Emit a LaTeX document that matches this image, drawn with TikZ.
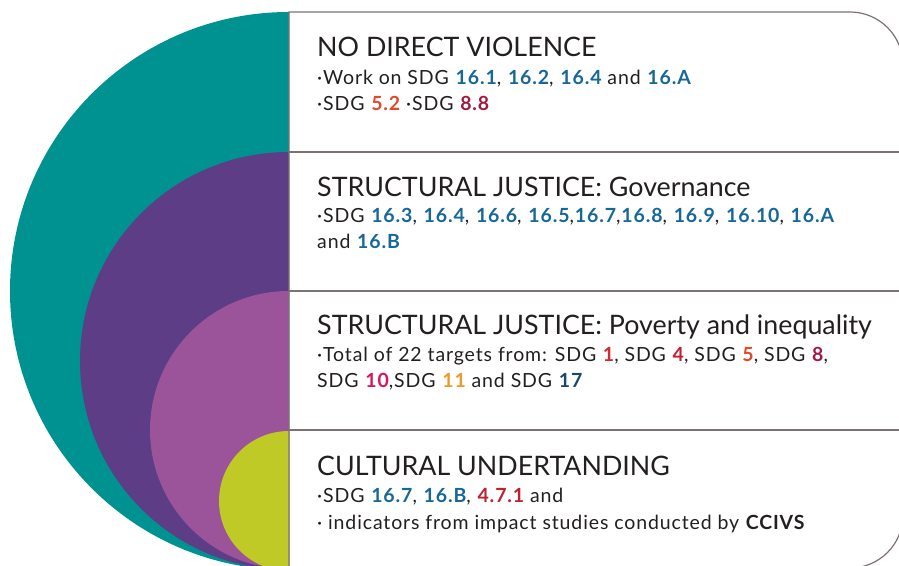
\documentclass[tikz,border=0pt]{standalone}
\usepackage{fontspec}
\setmainfont{Lato}
\newfontfamily\bodyfont[LetterSpace=4.5]{Lato}
\usetikzlibrary{calc}
\definecolor{ringteal}{HTML}{009191}
\definecolor{ringpurple}{HTML}{5C3D86}
\definecolor{ringmagenta}{HTML}{9B5399}
\definecolor{ringlime}{HTML}{BFCA26}
\definecolor{rulegray}{HTML}{7D7272}
\definecolor{inktext}{HTML}{231F20}
\definecolor{sdgone}{HTML}{D7283A}
\definecolor{sdgfour}{HTML}{BE2130}
\definecolor{sdgfive}{HTML}{E2492B}
\definecolor{sdgeight}{HTML}{A21942}
\definecolor{sdgten}{HTML}{D5175F}
\definecolor{sdgeleven}{HTML}{EE9A29}
\definecolor{sdgsixteen}{HTML}{17689A}
\definecolor{sdgseventeen}{HTML}{19486A}
\newcommand{\goal}[2]{\textbf{\textcolor{#1}{#2}}}
\tikzset{
  divider/.style={rulegray,line width=1.2pt},
  heading/.style={anchor=base west,inner sep=0pt,font=\fontsize{26.8}{32}\selectfont,text=inktext},
  % base of a two-line body node is its last line
  body/.style={anchor=base west,inner sep=0pt,align=left,font=\bodyfont\fontsize{19.5}{26.5}\selectfont,text=inktext}
}
\begin{document}
\begin{tikzpicture}[x=1pt,y=1pt]
  \useasboundingbox (0,0) rectangle (899,565);
  % nested half discs
  \fill[ringteal] (289,553) arc[start angle=90,end angle=270,radius=279] -- cycle;
  \fill[ringpurple] (289,413) arc[start angle=90,end angle=270,radius=209] -- cycle;
  \fill[ringmagenta] (289,274) arc[start angle=90,end angle=270,radius=139] -- cycle;
  \fill[ringlime] (289,134) arc[start angle=90,end angle=270,radius=70] -- cycle;
  % text panel
  \draw[divider] (289,-3) -- (289,553) -- (850,553) arc[start angle=90,end angle=0,radius=53]
    -- (903,50) arc[start angle=0,end angle=-90,radius=53] -- cycle;
  \draw[divider] (289,413) -- (903,413);
  \draw[divider] (289,274) -- (903,274);
  \draw[divider] (289,135) -- (903,135);
  % sections
  \node[heading] (violence) at (317,508) {NO DIRECT VIOLENCE};
  \node[body] (violencetext) at (317,454) {·Work on SDG \goal{sdgsixteen}{16.1}, \goal{sdgsixteen}{16.2}, \goal{sdgsixteen}{16.4} and \goal{sdgsixteen}{16.A}\\
    ·SDG \goal{sdgfive}{5.2} ·SDG \goal{sdgeight}{8.8}};
  \node[heading] (governance) at (317,368) {STRUCTURAL JUSTICE: Governance};
  \node[body] (governancetext) at (317,316) {·SDG \goal{sdgsixteen}{16.3}, \goal{sdgsixteen}{16.4}, \goal{sdgsixteen}{16.6}, \goal{sdgsixteen}{16.5},\goal{sdgsixteen}{16.7},\goal{sdgsixteen}{16.8}, \goal{sdgsixteen}{16.9}, \goal{sdgsixteen}{16.10}, \goal{sdgsixteen}{16.A}\\
    and \goal{sdgsixteen}{16.B}};
  \node[heading] (poverty) at (317,230) {STRUCTURAL JUSTICE: Poverty and inequality};
  \node[body] (povertytext) at (317,177) {·Total of 22 targets from: SDG \goal{sdgone}{1}, SDG \goal{sdgfour}{4}, SDG \goal{sdgfive}{5}, SDG \goal{sdgeight}{8},\\
    SDG \goal{sdgten}{10},SDG \goal{sdgeleven}{11} and SDG \goal{sdgseventeen}{17}};
  \node[heading] (culture) at (317,90) {CULTURAL UNDERTANDING};
  \node[body] (culturetext) at (317,36) {·SDG \goal{sdgsixteen}{16.7}, \goal{sdgsixteen}{16.B}, \goal{sdgfour}{4.7.1} and\\
    · indicators from impact studies conducted by \textbf{CCIVS}};
\end{tikzpicture}
\end{document}
